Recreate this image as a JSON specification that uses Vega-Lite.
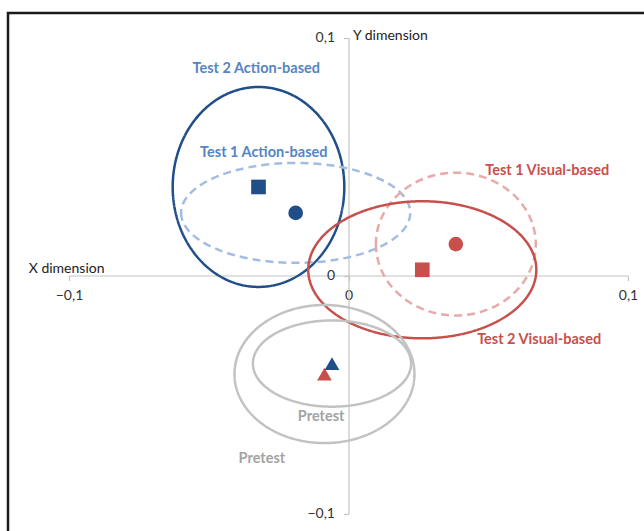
{
  "$schema": "https://vega.github.io/schema/vega-lite/v6.json",
  "width": 642,
  "height": 524,
  "autosize": "none",
  "padding": {"left": 8, "top": 13, "right": -6, "bottom": -6},
  "config": {
    "font": "Lato",
    "view": {"stroke": "#1a1a1a", "strokeWidth": 2.5}
  },
  "datasets": {
    "groups": [
      {"key": "Action Test 2", "group": "Action-based", "phase": "Test 2", "cx": -0.0322, "cy": 0.0372, "rx": 0.0307, "ry": 0.0420, "label": "Test 2 Action-based", "lx": -0.0330, "ly": 0.0868},
      {"key": "Action Test 1", "group": "Action-based", "phase": "Test 1", "cx": -0.0189, "cy": 0.0263, "rx": 0.0410, "ry": 0.0210, "label": "Test 1 Action-based", "lx": -0.0303, "ly": 0.0514},
      {"key": "Visual Test 1", "group": "Visual-based", "phase": "Test 1", "cx": 0.0384, "cy": 0.0132, "rx": 0.0286, "ry": 0.0300, "label": "Test 1 Visual-based", "lx": 0.0711, "ly": 0.0440},
      {"key": "Visual Test 2", "group": "Visual-based", "phase": "Test 2", "cx": 0.0264, "cy": 0.0024, "rx": 0.0408, "ry": 0.0288, "label": "Test 2 Visual-based", "lx": 0.0682, "ly": -0.0271},
      {"key": "Visual Pretest", "group": "Visual-based", "phase": "Pretest", "cx": -0.0086, "cy": -0.0414, "rx": 0.0322, "ry": 0.0290, "label": "Pretest", "lx": -0.0310, "ly": -0.0771},
      {"key": "Action Pretest", "group": "Action-based", "phase": "Pretest", "cx": -0.0059, "cy": -0.0370, "rx": 0.0283, "ry": 0.0181, "label": "Pretest", "lx": -0.0098, "ly": -0.0593}
    ]
  },
  "data": {"name": "groups"},
  "layer": [
    {
      "mark": {"type": "point", "filled": false, "opacity": 1, "strokeWidth": 2.5},
      "encoding": {
        "x": {
          "field": "cx", "type": "quantitative",
          "scale": {"domain": [-0.1, 0.1], "range": [61, 620], "nice": false, "zero": false},
          "axis": {
            "values": [-0.1, 0, 0.1],
            "offset": -261.5,
            "orient": "bottom",
            "grid": false,
            "domainColor": "#c4c4c4", "domainWidth": 1.2,
            "tickColor": "#c4c4c4", "tickWidth": 1.2, "tickSize": 5,
            "labelExpr": "datum.value === 0 ? '0' : replace(format(datum.value, '.1f'), '.', ',')",
            "labelFlush": false, "labelOverlap": false, "labelBound": false,
            "labelFont": "Lato", "labelFontSize": 14, "labelColor": "#333333", "labelPadding": 8,
            "title": "X dimension", "titleFont": "Lato", "titleFontSize": 14, "titleFontWeight": "normal", "titleColor": "#222222",
            "titleAlign": "right", "titleBaseline": "alphabetic", "titleX": 96, "titleY": -3, "titleAngle": 0
          }
        },
        "y": {
          "field": "cy", "type": "quantitative",
          "scale": {"domain": [-0.1, 0.1], "range": [500.5, 24.5], "nice": false, "zero": false},
          "axis": {
            "values": [-0.1, 0, 0.1],
            "offset": -340.5,
            "orient": "left",
            "grid": false,
            "domainColor": "#c4c4c4", "domainWidth": 1.2,
            "tickColor": "#c4c4c4", "tickWidth": 1.2, "tickSize": 5,
            "labelExpr": "datum.value === 0 ? '0' : replace(format(datum.value, '.1f'), '.', ',')",
            "labelFlush": false, "labelOverlap": false, "labelBound": false,
            "labelFont": "Lato", "labelFontSize": 14, "labelColor": "#333333", "labelPadding": 9,
            "title": "Y dimension", "titleFont": "Lato", "titleFontSize": 14, "titleFontWeight": "normal", "titleColor": "#222222",
            "titleAlign": "left", "titleBaseline": "middle", "titleX": 4, "titleY": 22.5, "titleAngle": 0
          }
        },
        "shape": {
          "field": "key", "type": "nominal", "legend": null,
          "scale": {
            "domain": ["Action Test 2", "Action Test 1", "Visual Test 1", "Visual Test 2", "Visual Pretest", "Action Pretest"],
            "range": [
              "M-1,0A1,1.165 0 1,0 1,0A1,1.165 0 1,0 -1,0Z",
              "M-1,0A1,0.436 0 1,0 1,0A1,0.436 0 1,0 -1,0Z",
              "M-1,0A1,0.893 0 1,0 1,0A1,0.893 0 1,0 -1,0Z",
              "M-1,0A1,0.601 0 1,0 1,0A1,0.601 0 1,0 -1,0Z",
              "M-1,0A1,0.767 0 1,0 1,0A1,0.767 0 1,0 -1,0Z",
              "M-1,0A1,0.545 0 1,0 1,0A1,0.545 0 1,0 -1,0Z"
            ]
          }
        },
        "size": {
          "field": "rx", "type": "quantitative", "legend": null,
          "scale": {"type": "pow", "exponent": 2, "domain": [0, 0.1], "range": [0, 312481], "zero": true, "nice": false}
        },
        "stroke": {
          "field": "key", "type": "nominal", "legend": null,
          "scale": {
            "domain": ["Action Test 2", "Action Test 1", "Visual Test 1", "Visual Test 2", "Visual Pretest", "Action Pretest"],
            "range": ["#1f4e89", "#a3bde0", "#e8aaa9", "#c8504c", "#c2c2c2", "#c2c2c2"]
          }
        },
        "strokeDash": {
          "field": "phase", "type": "nominal", "legend": null,
          "scale": {"domain": ["Pretest", "Test 1", "Test 2"], "range": [[1, 0], [8, 5], [1, 0]]}
        }
      }
    },
    {
      "mark": {"type": "point", "filled": true, "opacity": 1, "size": 215, "strokeWidth": 0},
      "encoding": {
        "x": {"field": "cx", "type": "quantitative"},
        "y": {"field": "cy", "type": "quantitative"},
        "shape": {
          "field": "phase", "type": "nominal", "legend": null,
          "scale": {"domain": ["Test 2", "Test 1", "Pretest"], "range": ["square", "circle", "triangle-up"]}
        },
        "fill": {
          "field": "group", "type": "nominal", "legend": null,
          "scale": {"domain": ["Action-based", "Visual-based"], "range": ["#1f4e89", "#c8504c"]}
        },
        "order": {"field": "group", "sort": "descending"}
      }
    },
    {
      "mark": {"type": "text", "font": "Lato", "fontSize": 14.5, "fontWeight": "bold", "align": "center", "baseline": "middle"},
      "encoding": {
        "x": {"field": "lx", "type": "quantitative"},
        "y": {"field": "ly", "type": "quantitative"},
        "text": {"field": "label"},
        "color": {
          "field": "key", "type": "nominal", "legend": null,
          "scale": {
            "domain": ["Action Test 2", "Action Test 1", "Visual Test 1", "Visual Test 2", "Visual Pretest", "Action Pretest"],
            "range": ["#5585c4", "#5585c4", "#c8504c", "#c8504c", "#a3a3a3", "#a3a3a3"]
          }
        }
      }
    }
  ],
  "resolve": {"scale": {"shape": "independent", "size": "independent"}}
}
